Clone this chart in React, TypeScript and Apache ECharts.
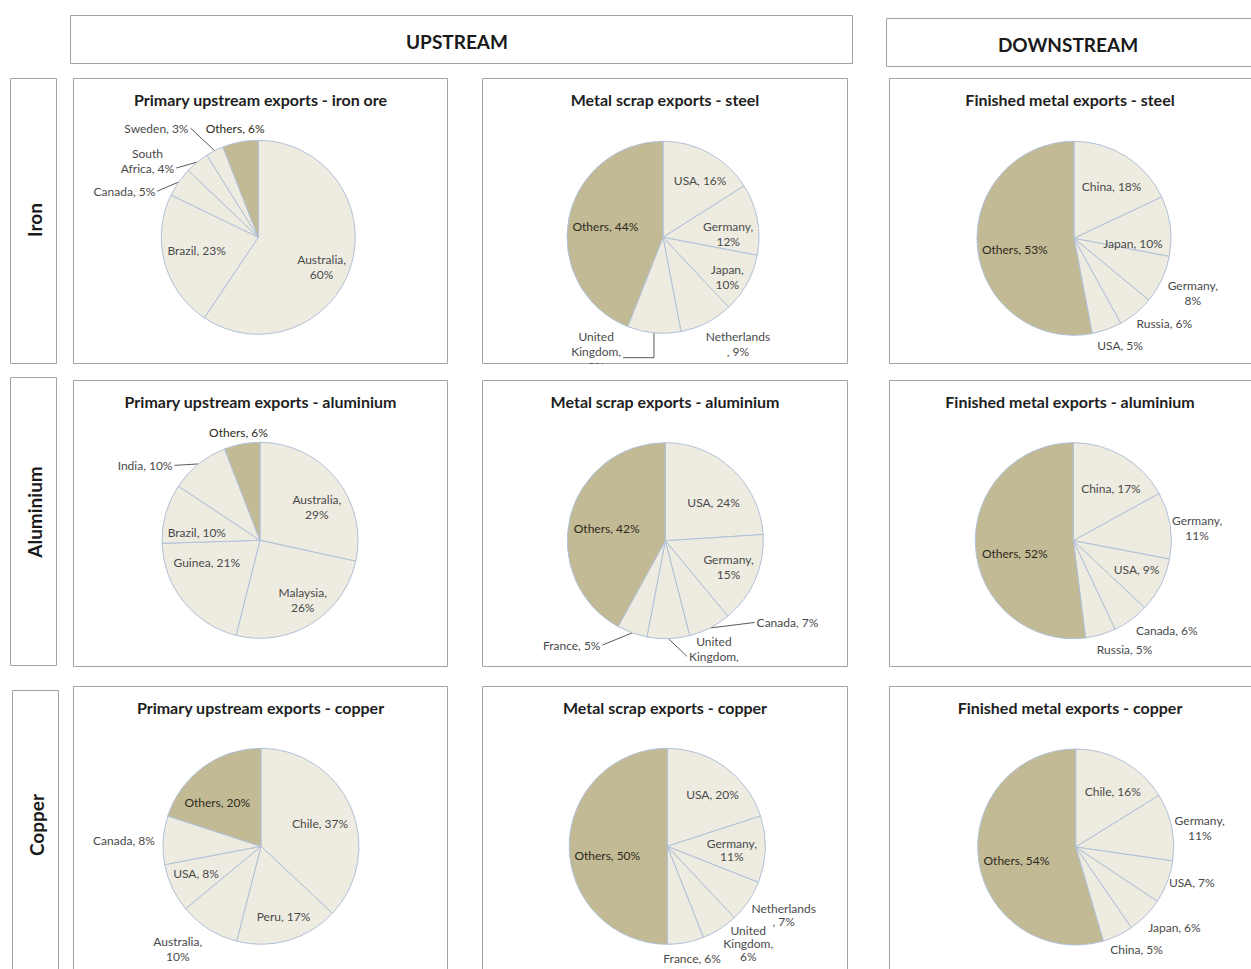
import React, { useEffect, useRef } from "react";
import * as echarts from "echarts";

// ---------------- Data ----------------
const stageHeaders = ["UPSTREAM", "DOWNSTREAM"];
const metalRows = ["Iron", "Aluminium", "Copper"];
const panelTitles = [
  "Primary upstream exports - iron ore",
  "Metal scrap exports - steel",
  "Finished metal exports - steel",
  "Primary upstream exports - aluminium",
  "Metal scrap exports - aluminium",
  "Finished metal exports - aluminium",
  "Primary upstream exports - copper",
  "Metal scrap exports - copper",
  "Finished metal exports - copper",
];

const ironOreNames = ["Australia", "Brazil", "Canada", "South Africa", "Sweden", "Others"];
const ironOreValues = [60, 23, 5, 4, 3, 6];
const steelScrapNames = ["USA", "Germany", "Japan", "Netherlands", "United Kingdom", "Others"];
const steelScrapValues = [16, 12, 10, 9, 9, 44];
const steelFinishedNames = ["China", "Japan", "Germany", "Russia", "USA", "Others"];
const steelFinishedValues = [18, 10, 8, 6, 5, 53];

const aluOreNames = ["Australia", "Malaysia", "Guinea", "Brazil", "India", "Others"];
const aluOreValues = [29, 26, 21, 10, 10, 6];
const aluScrapNames = ["USA", "Germany", "Canada", "United Kingdom", "France", "Others"];
const aluScrapValues = [24, 15, 7, 7, 5, 42];
const aluFinishedNames = ["China", "Germany", "USA", "Canada", "Russia", "Others"];
const aluFinishedValues = [17, 11, 9, 6, 5, 52];

const copperOreNames = ["Chile", "Peru", "Australia", "USA", "Canada", "Others"];
const copperOreValues = [37, 17, 10, 8, 8, 20];
const copperScrapNames = ["USA", "Germany", "Netherlands", "United Kingdom", "France", "Others"];
const copperScrapValues = [20, 11, 7, 6, 6, 50];
const copperFinishedNames = ["Chile", "Germany", "USA", "Japan", "China", "Others"];
const copperFinishedValues = [16, 11, 7, 6, 5, 54];

const panelNames = [
  ironOreNames, steelScrapNames, steelFinishedNames,
  aluOreNames, aluScrapNames, aluFinishedNames,
  copperOreNames, copperScrapNames, copperFinishedNames,
];
const panelValues = [
  ironOreValues, steelScrapValues, steelFinishedValues,
  aluOreValues, aluScrapValues, aluFinishedValues,
  copperOreValues, copperScrapValues, copperFinishedValues,
];

// ---------------- Layout & style ----------------
const FONT = "Lato, 'Noto Sans', 'DejaVu Sans', sans-serif";
const LIGHT = "#EEECE1";
const OTHERS = "#C2BA94";
const SLICE_BORDER = "#B0C1D8";
const FRAME = "#A3A3A3";
const LABEL_DARK = "#4A4A4A";
const LABEL_OTHERS = "#2C2A20";

const colLeft = [73, 482, 889];
const colWidth = [375, 366, 362];
const rowTop = [78, 380, 686];
const rowHeight = [286, 287, 283];
const openRight = [false, false, true];
const openBottom = [false, false, true];

// pie geometry inside each panel (panel-local pixels)
const pieCx = [185.3, 181, 185, 187, 183.3, 184.3, 188, 185.3, 186.7];
const pieCy = [159.3, 159.3, 160.3, 160.3, 160.7, 160.7, 160.3, 160.3, 161];
const pieR = [97, 96, 97, 98, 98, 98, 98, 98, 98];

// label placement (angle clockwise from 12 o'clock, radius in units of pie radius)
type LabelStyle = {
  a: number[];
  k: number[];
  wrap: string[];
  leader: string[];
  attach?: (number | null)[];
  lh?: number;
};
const labelStyles: LabelStyle[] = [
  {
    a: [115, 258, 289, 304.7, 317, 348],
    k: [0.72, 0.65, 1.46, 1.39, 1.54, 1.15],
    wrap: ["comma", "none", "none", "first", "none", "none"],
    leader: ["", "", "h", "h", "h", ""],
    attach: [null, null, null, 1, null, null],
  },
  {
    a: [33, 87, 122, 145, 210.3, 280.2],
    k: [0.71, 0.68, 0.79, 1.36, 1.38, 0.61],
    wrap: ["none", "comma", "comma", "before", "words", "none"],
    leader: ["", "", "", "", "v", ""],
    attach: [null, null, null, null, 1.4, null],
  },
  {
    a: [36, 94.8, 114.9, 133.4, 156.7, 259.7],
    k: [0.66, 0.61, 1.35, 1.28, 1.2, 0.62],
    wrap: ["none", "none", "comma", "none", "none", "none"],
    leader: ["", "", "", "", "", ""],
  },
  {
    a: [59.9, 144.5, 247, 277.4, 303.1, 348.7],
    k: [0.67, 0.75, 0.59, 0.65, 1.4, 1.12],
    wrap: ["comma", "comma", "none", "none", "none", "none"],
    leader: ["", "", "", "", "h", ""],
  },
  {
    a: [51.5, 112.8, 123.8, 157.2, 221.9, 281.3],
    k: [0.63, 0.7, 1.5, 1.28, 1.43, 0.61],
    wrap: ["none", "comma", "none", "words", "none", "none"],
    leader: ["", "", "h", "h", "h", ""],
    attach: [null, null, null, 1, null, null],
  },
  {
    a: [35.6, 84, 114.5, 133.7, 154.8, 258.1],
    k: [0.66, 1.27, 0.71, 1.32, 1.23, 0.61],
    wrap: ["none", "comma", "none", "none", "none", "none"],
    leader: ["", "", "", "", "", ""],
  },
  {
    a: [69, 162.2, 219, 247.1, 272.5, 314.9],
    k: [0.645, 0.75, 1.35, 0.72, 1.4, 0.63],
    wrap: ["none", "none", "comma", "none", "none", "none"],
    leader: ["", "", "", "", "", ""],
  },
  {
    a: [41.2, 93.3, 120.6, 140.2, 167.5, 261],
    k: [0.7, 0.66, 1.38, 1.29, 1.17, 0.62],
    wrap: ["none", "comma", "before", "words", "none", "none"],
    leader: ["", "", "", "", "", ""],
    lh: 13,
  },
  {
    a: [33.8, 81.4, 107.2, 129.2, 149.4, 257.3],
    k: [0.68, 1.28, 1.24, 1.3, 1.22, 0.62],
    wrap: ["none", "comma", "none", "none", "none", "none"],
    leader: ["", "", "", "", "", ""],
  },
];

function labelText(name: string, value: number, mode: string): string {
  switch (mode) {
    case "comma":
      return `${name},\n${value}%`;
    case "before":
      return `${name}\n, ${value}%`;
    case "words":
      return `${name.split(" ").join("\n")},\n${value}%`;
    case "first": {
      const parts = name.split(" ");
      return `${parts[0]}\n${parts.slice(1).join(" ")}, ${value}%`;
    }
    default:
      return `${name}, ${value}%`;
  }
}

function buildPanelOption(idx: number) {
  const col = idx % 3;
  const row = Math.floor(idx / 3);
  const w = colWidth[col];
  const h = rowHeight[row];
  const names = panelNames[idx];
  const values = panelValues[idx];
  const ls = labelStyles[idx];
  const cx = pieCx[idx];
  const cy = pieCy[idx];
  const r = pieR[idx];
  const lh = ls.lh ?? 15;
  const total = values.reduce((s, v) => s + v, 0);
  const texts = names.map((n, i) => labelText(n, values[i], ls.wrap[i]));

  const data = names.map((n, i) => {
    const isOther = n === "Others";
    return {
      name: n,
      value: values[i],
      itemStyle: { color: isOther ? OTHERS : LIGHT },
      label: {
        show: true,
        position: ls.k[i] < 1 ? "inside" : "outside",
        color: isOther ? LABEL_OTHERS : LABEL_DARK,
        formatter: texts[i],
      },
      labelLine: { show: !!ls.leader[i] },
    };
  });

  const labelLayout = (params: any) => {
    const i = params.dataIndex;
    let cum = 0;
    for (let j = 0; j < i; j++) cum += values[j];
    const mid = ((cum + values[i] / 2) / total) * 360;
    const ang = ((ls.a[i] ?? mid) * Math.PI) / 180;
    const R = ls.k[i] * r;
    const x = cx + R * Math.sin(ang);
    const y = cy - R * Math.cos(ang);
    const res: any = { x, y, align: "center", verticalAlign: "middle" };
    const ld = ls.leader[i];
    if (ld) {
      const m = (mid * Math.PI) / 180;
      const p0 = [cx + r * Math.sin(m), cy - r * Math.cos(m)];
      const lw = params.labelRect ? params.labelRect.width : 50;
      const nLines = texts[i].split("\n").length;
      const att = ls.attach && ls.attach[i] != null ? (ls.attach[i] as number) : (nLines - 1) / 2;
      const top = y - (nLines * lh) / 2;
      const py = top + lh * (att + 0.5);
      const px = p0[0] > x ? x + lw / 2 + 2 : x - lw / 2 - 2;
      res.labelLinePoints =
        ld === "v" ? [p0, [p0[0], py], [px, py]] : [p0, [px, py]];
    }
    return res;
  };

  return {
    animation: false,
    title: {
      text: panelTitles[idx],
      left: "center",
      top: 13,
      padding: 0,
      textStyle: {
        fontFamily: FONT,
        fontWeight: "bold",
        fontSize: 16,
        color: "#1E1E1E",
      },
    },
    graphic: [
      {
        type: "rect",
        silent: true,
        z: -10,
        shape: {
          x: 0.5,
          y: 0.5,
          width: openRight[col] ? w + 20 : w - 1,
          height: openBottom[row] ? h + 20 : h - 1,
        },
        style: { fill: "#ffffff", stroke: FRAME, lineWidth: 1 },
      },
    ],
    series: [
      {
        type: "pie",
        center: [cx, cy],
        radius: r,
        startAngle: 90,
        clockwise: true,
        avoidLabelOverlap: false,
        emphasis: { disabled: true },
        itemStyle: { borderColor: SLICE_BORDER, borderWidth: 1 },
        label: {
          fontFamily: FONT,
          fontSize: 12,
          lineHeight: lh,
          align: "center",
          overflow: "none",
        },
        labelLine: {
          length: 4,
          length2: 4,
          smooth: false,
          lineStyle: { color: "#5A5A5A", width: 1 },
        },
        labelLayout,
        data,
      },
    ],
  };
}

function buildFrameOption() {
  const headerFont = `bold 19px ${FONT}`;
  const rowFont = `bold 19px ${FONT}`;
  return {
    animation: false,
    graphic: [
      {
        type: "rect",
        shape: { x: 70.5, y: 15.5, width: 782, height: 48 },
        style: { fill: "#ffffff", stroke: FRAME, lineWidth: 1 },
      },
      {
        type: "text",
        x: 457,
        y: 41,
        style: { text: stageHeaders[0], align: "center", verticalAlign: "middle", font: headerFont, fill: "#1A1A1A" },
      },
      {
        type: "rect",
        shape: { x: 886.5, y: 18.5, width: 420, height: 48 },
        style: { fill: "#ffffff", stroke: FRAME, lineWidth: 1 },
      },
      {
        type: "text",
        x: 1068,
        y: 44,
        style: { text: stageHeaders[1], align: "center", verticalAlign: "middle", font: headerFont, fill: "#1A1A1A" },
      },
      {
        type: "rect",
        shape: { x: 10.5, y: 78.5, width: 46, height: 285 },
        style: { fill: "#ffffff", stroke: FRAME, lineWidth: 1 },
      },
      {
        type: "text",
        x: 34,
        y: 220,
        rotation: Math.PI / 2,
        style: { text: metalRows[0], align: "center", verticalAlign: "middle", font: rowFont, fill: "#1A1A1A" },
      },
      {
        type: "rect",
        shape: { x: 10.5, y: 377.5, width: 46, height: 288 },
        style: { fill: "#ffffff", stroke: FRAME, lineWidth: 1 },
      },
      {
        type: "text",
        x: 34,
        y: 512,
        rotation: Math.PI / 2,
        style: { text: metalRows[1], align: "center", verticalAlign: "middle", font: rowFont, fill: "#1A1A1A" },
      },
      {
        type: "rect",
        shape: { x: 12.5, y: 690.5, width: 46, height: 320 },
        style: { fill: "#ffffff", stroke: FRAME, lineWidth: 1 },
      },
      {
        type: "text",
        x: 36,
        y: 825,
        rotation: Math.PI / 2,
        style: { text: metalRows[2], align: "center", verticalAlign: "middle", font: rowFont, fill: "#1A1A1A" },
      },
    ],
  };
}

function EChart({ left, top, width, height, build }: { left: number; top: number; width: number; height: number; build: () => any }) {
  const ref = useRef<HTMLDivElement>(null);
  useEffect(() => {
    if (!ref.current) return;
    const chart = echarts.init(ref.current, undefined, { renderer: "svg", width, height });
    chart.setOption(build());
    return () => chart.dispose();
  }, []);
  return (
    <div
      ref={ref}
      style={{ position: "absolute", left, top, width, height, overflow: "hidden" }}
    />
  );
}

export default function App() {
  const panels = panelTitles.map((_, idx) => {
    const col = idx % 3;
    const row = Math.floor(idx / 3);
    return (
      <EChart
        key={idx}
        left={colLeft[col]}
        top={rowTop[row]}
        width={colWidth[col]}
        height={rowHeight[row]}
        build={() => buildPanelOption(idx)}
      />
    );
  });
  return (
    <div
      style={{
        position: "absolute",
        left: 0,
        top: 0,
        width: 1251,
        height: 969,
        overflow: "hidden",
        background: "#ffffff",
      }}
    >
      <EChart left={0} top={0} width={1251} height={969} build={buildFrameOption} />
      {panels}
    </div>
  );
}
